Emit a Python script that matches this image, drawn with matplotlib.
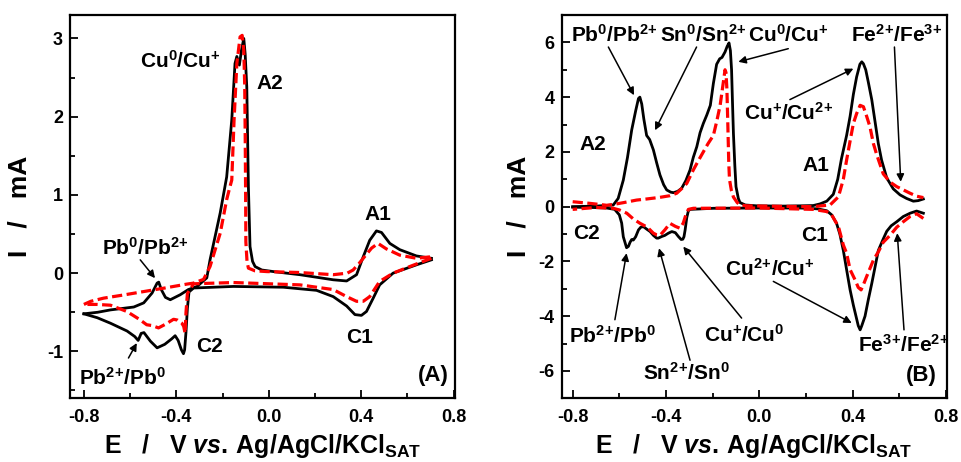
import matplotlib
matplotlib.use("Agg")
import matplotlib.pyplot as plt
from matplotlib.ticker import MultipleLocator

plt.rcParams['font.family'] = ['Liberation Sans', 'DejaVu Sans']
plt.rcParams['font.weight'] = 'bold'
plt.rcParams['mathtext.fontset'] = 'custom'
plt.rcParams['mathtext.rm'] = 'Liberation Sans:bold'
plt.rcParams['mathtext.bf'] = 'Liberation Sans:bold'
plt.rcParams['mathtext.it'] = 'Liberation Sans:italic:bold'
plt.rcParams['mathtext.default'] = 'rm'
plt.rcParams['axes.unicode_minus'] = False

# ---------------- Panel A data (E in V, I in mA) ----------------
a_black_fwd_E = [-0.80, -0.74, -0.685, -0.63, -0.584, -0.541, -0.505, -0.483, -0.476, -0.465, -0.447, -0.426,
                 -0.383, -0.348, -0.31, -0.268, -0.254, -0.21, -0.182, -0.16, -0.146, -0.138, -0.127, -0.118,
                 -0.108, -0.102, -0.095, -0.088, -0.081, -0.07, -0.059, -0.03, 0.02, 0.135, 0.279, 0.337, 0.38,
                 0.409, 0.437, 0.466, 0.488, 0.524, 0.567, 0.639, 0.704]
a_black_fwd_I = [-0.52, -0.50, -0.47, -0.45, -0.433, -0.38, -0.255, -0.127, -0.115, -0.21, -0.31, -0.34,
                 -0.276, -0.21, -0.17, -0.06, 0.17, 0.77, 1.23, 1.96, 2.68, 2.77, 2.66, 2.85,
                 3.0, 2.8, 2.38, 1.1, 0.34, 0.15, 0.084, 0.04, 0.02, -0.02, -0.085, -0.1, -0.02,
                 0.21, 0.42, 0.54, 0.52, 0.38, 0.30, 0.22, 0.19]
a_black_rev_E = [0.704, 0.639, 0.538, 0.48, 0.452, 0.423, 0.401, 0.373, 0.337, 0.279, 0.207, 0.063, -0.153,
                 -0.325, -0.345, -0.352, -0.358, -0.364, -0.369, -0.378, -0.392, -0.405, -0.42, -0.45, -0.483,
                 -0.512, -0.54, -0.552, -0.565, -0.58, -0.613, -0.685, -0.742, -0.80]
a_black_rev_I = [0.17, 0.106, 0.0, -0.15, -0.32, -0.49, -0.54, -0.53, -0.42, -0.30, -0.22, -0.18, -0.17,
                 -0.19, -0.24, -0.45, -0.75, -0.98, -1.03, -0.98, -0.86, -0.80, -0.84, -0.91, -0.955,
                 -0.87, -0.76, -0.77, -0.86, -0.81, -0.74, -0.64, -0.57, -0.52]

a_red_fwd_E = [-0.80, -0.77, -0.715, -0.63, -0.54, -0.45, -0.354, -0.326, -0.282, -0.254, -0.21, -0.182,
               -0.17, -0.16, -0.15, -0.138, -0.124, -0.115, -0.108, -0.104, -0.102, -0.100, -0.099, -0.094,
               -0.088, -0.06, -0.009, 0.135, 0.279, 0.34, 0.365, 0.39, 0.409, 0.445, 0.473, 0.509, 0.567,
               0.639, 0.704]
a_red_fwd_I = [-0.40, -0.36, -0.32, -0.28, -0.235, -0.19, -0.14, -0.128, -0.08, 0.085, 0.51, 0.94,
               1.08, 1.19, 1.96, 2.68, 3.02, 3.04, 2.85, 2.4, 1.8, 1.0, 0.4, 0.15,
               0.064, 0.03, 0.02, 0.008, -0.02, 0.0, 0.04, 0.12, 0.19, 0.32, 0.38, 0.31, 0.23,
               0.19, 0.21]
a_red_rev_E = [0.704, 0.624, 0.538, 0.48, 0.437, 0.409, 0.38, 0.337, 0.279, 0.135, -0.153, -0.325, -0.352,
               -0.358, -0.362, -0.368, -0.376, -0.395, -0.412, -0.445, -0.477, -0.505, -0.528, -0.56,
               -0.614, -0.685, -0.742, -0.80]
a_red_rev_I = [0.19, 0.10, 0.0, -0.106, -0.30, -0.36, -0.36, -0.30, -0.21, -0.15, -0.12, -0.136, -0.26,
               -0.5, -0.77, -0.68, -0.64, -0.60, -0.59, -0.65, -0.70, -0.67, -0.66, -0.59,
               -0.49, -0.41, -0.40, -0.40]

# ---------------- Panel B data ----------------
b_black_fwd_E = [-0.80, -0.70, -0.626, -0.605, -0.583, -0.565, -0.547, -0.53, -0.518, -0.512, -0.504, -0.495,
                 -0.483, -0.47, -0.454, -0.44, -0.426, -0.41, -0.397, -0.38, -0.368, -0.35, -0.333, -0.315,
                 -0.297, -0.283, -0.268, -0.254, -0.24, -0.225, -0.21, -0.197, -0.183, -0.17, -0.16, -0.147,
                 -0.138, -0.13, -0.124, -0.119, -0.115, -0.111, -0.105, -0.10, -0.09, -0.083, -0.06, -0.011,
                 0.10, 0.174, 0.231, 0.26, 0.289, 0.317, 0.336, 0.352, 0.374, 0.389, 0.403, 0.417, 0.431,
                 0.439, 0.446, 0.456, 0.467, 0.482, 0.496, 0.51, 0.524, 0.546, 0.56, 0.574, 0.603, 0.631,
                 0.66, 0.681, 0.703]
b_black_fwd_I = [0.0, 0.02, 0.06, 0.3, 0.97, 1.8, 2.8, 3.5, 3.95, 4.0, 3.75, 3.2,
                 2.6, 2.45, 2.07, 1.6, 1.16, 0.8, 0.61, 0.53, 0.51, 0.56, 0.67, 0.95,
                 1.34, 1.8, 2.19, 2.7, 3.04, 3.35, 3.7, 4.5, 5.2, 5.4, 5.45, 5.65,
                 5.85, 5.98, 5.7, 5.0, 3.8, 2.67, 1.5, 0.73, 0.3, 0.15, 0.06, 0.03,
                 0.02, 0.03, 0.04, 0.1, 0.2, 0.45, 1.0, 1.75, 2.6, 3.3, 4.1, 4.74, 5.2,
                 5.29, 5.22, 5.0, 4.55, 3.9, 3.1, 2.3, 1.7, 1.05, 0.85, 0.65, 0.43, 0.3,
                 0.2, 0.22, 0.28]
b_black_rev_E = [0.703, 0.674, 0.646, 0.617, 0.589, 0.565, 0.546, 0.53, 0.51, 0.496, 0.482, 0.467, 0.453,
                 0.439, 0.432, 0.424, 0.417, 0.403, 0.389, 0.374, 0.36, 0.345, 0.331, 0.31, 0.289, 0.25,
                 0.174, 0.0, -0.197, -0.297, -0.304, -0.311, -0.318, -0.323, -0.328, -0.335, -0.347, -0.36,
                 -0.375, -0.39, -0.405, -0.418, -0.433, -0.44, -0.454, -0.468, -0.483, -0.497, -0.508,
                 -0.518, -0.53, -0.54, -0.547, -0.554, -0.561, -0.569, -0.576, -0.583, -0.59, -0.60,
                 -0.62, -0.654, -0.72, -0.80]
b_black_rev_I = [-0.24, -0.16, -0.24, -0.36, -0.55, -0.7, -0.9, -1.2, -1.6, -2.2, -2.8, -3.4, -4.0,
                 -4.35, -4.5, -4.35, -4.1, -3.6, -3.04, -2.3, -1.6, -1.0, -0.61, -0.3, -0.15, -0.08,
                 -0.05, -0.05, -0.06, -0.1, -0.15, -0.4, -0.85, -1.1, -1.19, -1.2, -1.09, -0.95,
                 -0.91, -0.97, -1.05, -1.09, -1.15, -1.15, -1.05, -0.91, -0.82, -0.73, -0.75,
                 -0.85, -1.1, -1.22, -1.2, -1.3, -1.45, -1.5, -1.3, -1.1, -0.6, -0.3,
                 -0.1, -0.05, -0.03, -0.02]

b_red_fwd_E = [-0.80, -0.726, -0.654, -0.626, -0.58, -0.526, -0.483, -0.426, -0.383, -0.354, -0.33, -0.311,
               -0.283, -0.26, -0.24, -0.22, -0.197, -0.183, -0.168, -0.155, -0.147, -0.143, -0.139, -0.135,
               -0.131, -0.128, -0.12, -0.111, -0.095, -0.083, -0.054, 0.10, 0.231, 0.303, 0.339, 0.36, 0.374,
               0.389, 0.403, 0.417, 0.432, 0.446, 0.46, 0.474, 0.489, 0.503, 0.531, 0.56, 0.589, 0.62,
               0.646, 0.675, 0.703]
b_red_fwd_I = [0.18, 0.12, 0.05, 0.08, 0.15, 0.24, 0.28, 0.34, 0.40, 0.49, 0.68, 0.85,
               1.34, 1.7, 2.0, 2.3, 2.6, 3.1, 3.7, 4.5, 5.0, 4.9, 4.3, 3.0,
               1.6, 1.0, 0.6, 0.35, 0.15, 0.06, 0.03, 0.01, 0.0, 0.06, 0.36, 1.0, 1.7,
               2.4, 3.04, 3.4, 3.7, 3.65, 3.3, 2.92, 2.3, 1.9, 1.2, 0.9, 0.73, 0.6,
               0.49, 0.38, 0.33]
b_red_rev_E = [0.703, 0.674, 0.646, 0.617, 0.589, 0.56, 0.531, 0.51, 0.489, 0.46, 0.446, 0.436, 0.424,
               0.41, 0.389, 0.374, 0.36, 0.339, 0.31, 0.289, 0.231, 0.0, -0.283, -0.304, -0.315, -0.326,
               -0.34, -0.36, -0.383, -0.405, -0.426, -0.44, -0.454, -0.48, -0.511, -0.54, -0.568, -0.60,
               -0.626, -0.70, -0.80]
b_red_rev_I = [-0.43, -0.26, -0.36, -0.55, -0.75, -1.05, -1.3, -1.65, -1.95, -2.55, -2.85, -3.04, -2.95,
               -2.67, -2.3, -1.7, -1.4, -0.73, -0.3, -0.18, -0.1, -0.05, -0.06, -0.1, -0.3, -0.6,
               -0.79, -0.72, -0.61, -0.85, -1.05, -1.03, -0.97, -0.75, -0.61, -0.45, -0.24, -0.12,
               -0.06, -0.03, -0.10]

x_ticks = [-0.8, -0.4, 0.0, 0.4, 0.8]
x_ticklabels = ['-0.8', '-0.4', '0.0', '0.4', '0.8']
a_yticks = [-1, 0, 1, 2, 3]
b_yticks = [-6, -4, -2, 0, 2, 4, 6]

xlabel = r'E   /   V $\mathit{vs.}\,$Ag/AgCl/KCl$_{\mathrm{SAT}}$'
ylabel = 'I   /   mA'

W, H = 961, 462
fig = plt.figure(figsize=(W / 100, H / 100), dpi=100)
axA = fig.add_axes([70 / W, 1 - 398.3 / H, 385 / W, 383.3 / H])
axB = fig.add_axes([561.7 / W, 1 - 398.3 / H, 385 / W, 383.3 / H])

BLACK_LW = 2.0
RED_LW = 2.3
RED = '#ff0000'
DASH = (3.2, 1.4)

for ax, data in ((axA, (a_black_fwd_E, a_black_fwd_I, a_black_rev_E, a_black_rev_I,
                        a_red_fwd_E, a_red_fwd_I, a_red_rev_E, a_red_rev_I)),
                 (axB, (b_black_fwd_E, b_black_fwd_I, b_black_rev_E, b_black_rev_I,
                        b_red_fwd_E, b_red_fwd_I, b_red_rev_E, b_red_rev_I))):
    bfE, bfI, brE, brI, rfE, rfI, rrE, rrI = data
    ax.plot(bfE, bfI, color='k', lw=BLACK_LW, solid_joinstyle='round', zorder=3)
    ax.plot(brE, brI, color='k', lw=BLACK_LW, solid_joinstyle='round', zorder=3)
    ax.plot(rfE, rfI, color=RED, lw=RED_LW, dashes=DASH, zorder=4)
    ax.plot(rrE, rrI, color=RED, lw=RED_LW, dashes=DASH, zorder=4)
    ax.set_xticks(x_ticks)
    ax.set_xticklabels(x_ticklabels)
    ax.xaxis.set_minor_locator(MultipleLocator(0.2))
    ax.tick_params(which='both', direction='in', top=False, right=False, width=1.3)
    ax.tick_params(which='major', length=6, labelsize=13, pad=8)
    ax.tick_params(which='minor', length=3.5)
    for sp in ax.spines.values():
        sp.set_linewidth(1.6)
    ax.set_xlabel(xlabel, fontsize=18, fontweight='bold', labelpad=4)
    ax.set_ylabel(ylabel, fontsize=19, fontweight='bold')
    for lab in ax.get_xticklabels() + ax.get_yticklabels():
        lab.set_fontweight('bold')

axA.set_xlim(-0.86, 0.806)
axA.set_ylim(-1.6, 3.3)
axA.set_yticks(a_yticks)
axA.yaxis.set_minor_locator(MultipleLocator(0.5))
axA.tick_params(axis='y', pad=5)
axA.yaxis.set_label_coords(-0.099, 0.5)

axB.set_xlim(-0.847, 0.803)
axB.set_ylim(-7, 7)
axB.set_yticks(b_yticks)
axB.yaxis.set_minor_locator(MultipleLocator(1))
axB.tick_params(axis='y', pad=5)
axB.yaxis.set_label_coords(-0.082, 0.5)

TFS = 15
arrow_kw = dict(arrowstyle='-|>', color='k', lw=1.1, mutation_scale=11, shrinkA=0, shrinkB=0)

# Panel A annotations
axA.text(-0.556, 2.62, r'Cu$^{0}$/Cu$^{+}$', fontsize=TFS, fontweight='bold')
axA.text(-0.052, 2.35, 'A2', fontsize=TFS, fontweight='bold')
axA.text(0.416, 0.68, 'A1', fontsize=TFS, fontweight='bold')
axA.text(0.337, -0.89, 'C1', fontsize=TFS, fontweight='bold')
axA.text(-0.314, -1.01, 'C2', fontsize=TFS, fontweight='bold')
axA.text(-0.722, 0.24, r'Pb$^{0}$/Pb$^{2\!+}$', fontsize=TFS, fontweight='bold')
axA.text(-0.823, -1.43, r'Pb$^{2\!+\!}$/Pb$^{0}$', fontsize=TFS, fontweight='bold')
axA.text(0.777, -1.38, '(A)', fontsize=TFS + 1, fontweight='bold', ha='right')
axA.annotate('', xy=(-0.492, -0.064), xytext=(-0.556, 0.17), arrowprops=arrow_kw)
axA.annotate('', xy=(-0.571, -0.894), xytext=(-0.607, -1.085), arrowprops=arrow_kw)

# Panel B annotations
axB.text(-0.809, 6.01, r'Pb$^{0}$/Pb$^{2\!+}$', fontsize=TFS, fontweight='bold')
axB.text(-0.426, 6.01, r'Sn$^{0}$/Sn$^{2\!+}$', fontsize=TFS, fontweight='bold')
axB.text(-0.047, 6.01, r'Cu$^{0}$/Cu$^{+}$', fontsize=TFS, fontweight='bold')
axB.text(0.391, 6.01, r'Fe$^{2\!+\!}$/Fe$^{3\!+}$', fontsize=TFS, fontweight='bold')
axB.text(-0.064, 3.16, r'Cu$^{+}$/Cu$^{2\!+}$', fontsize=TFS, fontweight='bold')
axB.text(-0.769, 2.07, 'A2', fontsize=TFS, fontweight='bold')
axB.text(0.186, 1.30, 'A1', fontsize=TFS, fontweight='bold')
axB.text(-0.80, -1.19, 'C2', fontsize=TFS, fontweight='bold')
axB.text(0.181, -1.24, 'C1', fontsize=TFS, fontweight='bold')
axB.text(-0.147, -2.53, r'Cu$^{2\!+\!}$/Cu$^{+}$', fontsize=TFS, fontweight='bold')
axB.text(-0.814, -4.98, r'Pb$^{2\!+\!}$/Pb$^{0}$', fontsize=TFS, fontweight='bold')
axB.text(-0.237, -4.92, r'Cu$^{+}$/Cu$^{0}$', fontsize=TFS, fontweight='bold')
axB.text(-0.497, -6.32, r'Sn$^{2\!+\!}$/Sn$^{0}$', fontsize=TFS, fontweight='bold')
axB.text(0.421, -5.29, r'Fe$^{3\!+\!}$/Fe$^{2\!+}$', fontsize=TFS, fontweight='bold')
axB.text(0.76, -6.38, '(B)', fontsize=TFS + 1, fontweight='bold', ha='right')

arrowsB = [((-0.647, 5.83), (-0.537, 4.07)),
           ((-0.269, 5.83), (-0.447, 2.79)),
           ((0.124, 5.77), (-0.09, 5.29)),
           ((0.579, 5.83), (0.606, 0.91)),
           ((0.131, 3.91), (0.403, 5.04)),
           ((0.06, -2.73), (0.396, -4.25)),
           ((0.62, -4.5), (0.591, -0.97)),
           ((-0.619, -4.13), (-0.569, -1.7)),
           ((-0.297, -5.61), (-0.43, -1.52)),
           ((-0.076, -4.07), (-0.326, -1.46))]
for start, end in arrowsB:
    axB.annotate('', xy=end, xytext=start, arrowprops=arrow_kw)

fig.savefig('out.png', dpi=100)
